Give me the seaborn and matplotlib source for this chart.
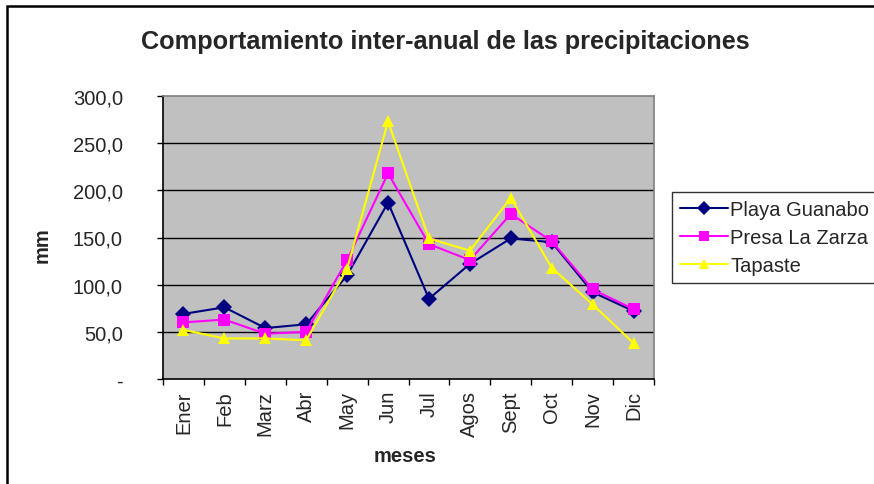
import matplotlib
matplotlib.use("Agg")
import matplotlib.pyplot as plt
import seaborn as sns
import pandas as pd
from matplotlib.patches import Rectangle
from matplotlib.ticker import FixedLocator, FixedFormatter

meses = ["Ener", "Feb", "Marz", "Abr", "May", "Jun", "Jul", "Agos", "Sept", "Oct", "Nov", "Dic"]
playa_guanabo = [69, 76, 54, 58, 110, 187, 85, 122, 149, 145, 92, 72]
presa_la_zarza = [60, 63, 48, 50, 126, 218, 143, 126, 175, 146, 95, 74]
tapaste = [52, 43, 43, 41, 117, 273, 149, 136, 192, 118, 79, 38]
series = ["Playa Guanabo", "Presa La Zarza", "Tapaste"]
colors = ["#000080", "#FF00FF", "#FFFF00"]
yticks = [0, 50, 100, 150, 200, 250, 300]
ytick_labels = ["-", "50,0", "100,0", "150,0", "200,0", "250,0", "300,0"]

rows = []
for name, vals in zip(series, [playa_guanabo, presa_la_zarza, tapaste]):
    for m, v in zip(meses, vals):
        rows.append({"mes": m, "mm": v, "serie": name})
df = pd.DataFrame(rows)

sns.set_theme(style="white")
plt.rcParams["font.family"] = ["Liberation Sans", "DejaVu Sans"]

FS = 14.5
fig = plt.figure(figsize=(8.74, 4.85), dpi=100)
ax = fig.add_axes([163 / 874, 1 - 380 / 485, (654 - 163) / 874, (380 - 97) / 485])
ax.set_facecolor("#C0C0C0")

sns.lineplot(data=df, x="mes", y="mm", hue="serie", style="serie",
             markers=["D", "s", "^"], dashes=False, palette=colors,
             markersize=8, linewidth=1.5, markeredgewidth=0, sort=False,
             ax=ax, legend=True)

ax.set_xlim(-0.5, 11.5)
ax.set_ylim(0, 300)
for y in yticks[1:-1]:
    ax.axhline(y, color="black", linewidth=1.0, zorder=0.5)

ax.yaxis.set_major_locator(FixedLocator(yticks))
ax.yaxis.set_major_formatter(FixedFormatter(ytick_labels))
ax.xaxis.set_major_locator(FixedLocator([i - 0.5 for i in range(13)]))
ax.xaxis.set_major_formatter(FixedFormatter([""] * 13))
ax.xaxis.set_minor_locator(FixedLocator(list(range(12))))
ax.xaxis.set_minor_formatter(FixedFormatter(meses))
ax.tick_params(axis="x", which="major", direction="out", length=4, width=1, color="black", bottom=True)
ax.tick_params(axis="x", which="minor", length=0, labelsize=FS, labelrotation=90, pad=8, bottom=True)
ax.tick_params(axis="y", which="major", direction="out", length=4.3, width=1, color="black",
               labelsize=FS, pad=24.5, left=True)
for lab in ax.get_yticklabels():
    lab.set_horizontalalignment("right")

for s in ["left", "bottom"]:
    ax.spines[s].set_color("black")
    ax.spines[s].set_linewidth(1.2)
for s in ["top", "right"]:
    ax.spines[s].set_color("#808080")
    ax.spines[s].set_linewidth(1.2)

ax.set_xlabel("meses", fontsize=FS, fontweight="bold")
ax.set_ylabel("mm", fontsize=FS, fontweight="bold")
ax.xaxis.set_label_coords((405 - 163) / (654 - 163), -(457 - 380) / (380 - 97))
ax.yaxis.set_label_coords(-(163 - 42) / (654 - 163), (380 - 245) / (380 - 97))
ax.xaxis.label.set_va("center")
ax.yaxis.label.set_va("center")

handles, labels = ax.get_legend_handles_labels()
for h in handles:
    h.set_markersize(7)
ax.get_legend().remove()
leg = fig.legend(handles, labels, loc="upper left", bbox_to_anchor=(672 / 874, 1 - 193 / 485),
                 fontsize=FS, frameon=True, fancybox=False, edgecolor="black",
                 borderpad=0.4, handlelength=2.4, handletextpad=0.1, labelspacing=0.45,
                 borderaxespad=0)
leg.get_frame().set_linewidth(1.0)

fig.text(445 / 874, 1 - 42 / 485, "Comportamiento inter-anual de las precipitaciones",
         ha="center", va="center", fontsize=18.2, fontweight="bold")

fig.patches.append(Rectangle((7 / 874, -0.1), 1.2, (485 - 7) / 485 + 0.1,
                             transform=fig.transFigure, fill=False,
                             edgecolor="black", linewidth=1.8))

fig.savefig("out.png", dpi=100)
